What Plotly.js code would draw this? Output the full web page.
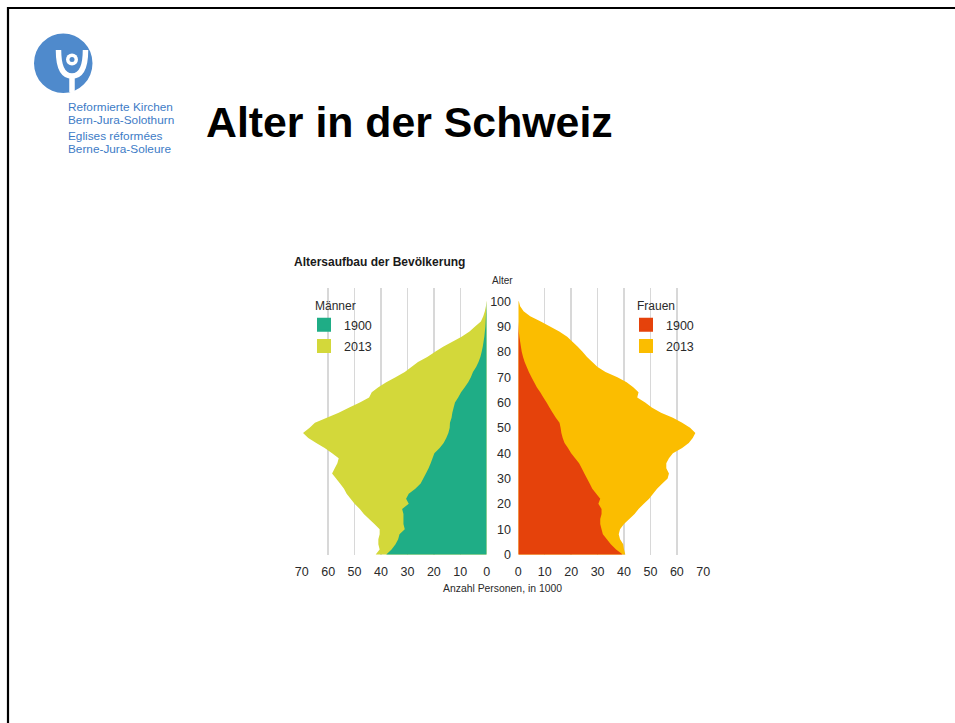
<!DOCTYPE html>
<html><head><meta charset="utf-8">
<script src="https://cdn.plot.ly/plotly-3.0.1.min.js"></script>
<style>html,body{margin:0;padding:0;background:#fff;} #chart{width:955px;height:723px;} .legendfill{display:none;}</style>
</head><body><div id="chart"></div>
<script>
// ---- data (in 1000 persons) ----
const ages = [0,2,4,6,8,10,12,14,16,18,20,22,24,26,28,30,32,34,36,38,40,42,44,46,48,50,52,54,56,58,60,62,64,66,68,70,72,74,76,78,80,82,84,86,88,90,92,94,96,98,100];
const men1900 = [38,36,34.5,33.5,33,31,31.5,31.5,31.5,32,29.5,30.5,29.5,27,25,24,23,22,21.2,20.5,19.8,17.8,16.3,15.3,14.5,14,13.9,13.3,13,12.5,12,10.8,9.7,8.3,7,6,5.2,4,3.1,2.4,1.9,1.5,1.2,0.9,0.7,0.5,0.4,0.3,0.2,0.1,0];
const men2013 = [42,40.5,41,41,40.5,40.5,42.5,44.5,46.5,48,50,51.5,53,54,55.5,57,58.5,57.5,56.5,56,58.5,61.3,64.5,67.5,69.5,67,65,60.5,56,52,48,44.5,43.5,41,38,34.5,31,28.5,26,22.5,19.5,16.5,13,9.5,6.5,4.4,2.2,1.3,0.7,0.3,0.1];
const women1900 = [39.5,37,35,33.5,32,31.5,31,31,31.5,31.5,30.3,31,29.5,28,27,26,25,24,23,21.5,20,18.8,17.5,16.8,16.3,16,15.6,14.2,13,11.8,10.7,9.5,8.3,7,6,5,4,3.2,2.4,1.8,1.3,1,0.7,0.4,0.2,0.1,0,0,0,0,0];
const women2013 = [40.5,40,39.7,38.5,38,38.5,40,42,44,45.5,47.5,49.5,51,52.5,54.5,56.5,57,56,56,57,58.5,62,64.5,66,67,65,62,58.5,54,50.5,48,45,45.5,43.5,41,37.5,33,30,28,26,24.3,22.5,20.5,18.5,15.5,12,8.5,4.5,2,0.7,0.2];
const xTicks = [0,10,20,30,40,50,60,70];
const ageTicks = [0,10,20,30,40,50,60,70,80,90,100];
const years = ['1900','2013'];

// ---- styling ----
const W = 955, H = 723;
const px = x => x / W, py = y => 1 - y / H;
const FONT = 'Liberation Sans, Arial, sans-serif';
const C = {m1900:'#1fad86', m2013:'#d3d83a', w1900:'#e5420b', w2013:'#fbbd00'};
const LOGO = '#3d7bc6';

function area(vals, name, color, xa, leg, rank) {
  return {
    type:'scatter', x: vals, y: ages, xaxis: xa, yaxis:'y',
    mode:'markers', fill:'tozerox', fillcolor: color,
    line:{width:0, color: color},
    marker:{size:0.001, symbol:'square', color: color, line:{width:0.001, color: color}},
    name: name, legend: leg, legendgroup: leg + name, legendrank: rank,
    hoverinfo:'skip'
  };
}

const data = [
  area(men2013, years[1], C.m2013, 'x', 'legend', 2),
  area(men1900, years[0], C.m1900, 'x', 'legend', 1),
  area(women2013, years[1], C.w2013, 'x2', 'legend2', 2),
  area(women1900, years[0], C.w1900, 'x2', 'legend2', 1)
];

const xCommon = {
  tickvals: xTicks, ticks:'', showgrid:true, gridcolor:'#d8d8d8', gridwidth:1.4,
  zeroline:false, showline:false, anchor:'y', fixedrange:true, ticklabelstandoff:7,
  tickfont:{family:FONT, size:12.5, color:'#2a2a2a'}
};
const legCommon = {
  xanchor:'left', yanchor:'top', bgcolor:'rgba(0,0,0,0)', borderwidth:0,
  font:{family:FONT, size:12.5, color:'#2a2a2a'}, tracegroupgap:2, indentation:-9,
  itemsizing:'constant', traceorder:'grouped'
};

const layout = {
  width:W, height:H, margin:{l:0,r:0,t:0,b:0},
  paper_bgcolor:'#fff', plot_bgcolor:'rgba(0,0,0,0)', showlegend:true,
  font:{family:FONT},
  title:{text:'Alter in der Schweiz', x:px(206), xanchor:'left', xref:'paper',
         y:py(122), yanchor:'middle', yref:'paper',
         font:{family:FONT, size:42.8, weight:'bold', color:'#000'}},
  xaxis: Object.assign({}, xCommon, {domain:[px(301.7), px(486.7)], range:[70,0]}),
  xaxis2: Object.assign({}, xCommon, {domain:[px(518.3), px(703.3)], range:[0,70]}),
  yaxis: {domain:[py(555), py(288)], range:[-0.2,105.2], anchor:'free', position:px(511),
          side:'left', tickvals: ageTicks, ticks:'', showgrid:false, zeroline:false,
          showline:false, fixedrange:true, tickfont:{family:FONT, size:12.5, color:'#2a2a2a'}},
  legend: Object.assign({}, legCommon, {x:px(313), y:py(294.5), title:{text:'Männer', font:{family:FONT, size:12, color:'#2a2a2a'}}}),
  legend2: Object.assign({}, legCommon, {x:px(635), y:py(294.5), title:{text:'Frauen', font:{family:FONT, size:12, color:'#2a2a2a'}}}),
  annotations: [
    {text:'<b>Altersaufbau der Bevölkerung</b>', xref:'paper', yref:'paper', x:px(292), y:py(262), xanchor:'left', yanchor:'middle', showarrow:false, font:{family:FONT, size:12, color:'#1a1a1a'}},
    {text:'Alter', xref:'paper', yref:'paper', x:px(502), y:py(280.5), xanchor:'center', yanchor:'middle', showarrow:false, font:{family:FONT, size:10, color:'#2a2a2a'}},
    {text:'Anzahl Personen, in 1000', xref:'paper', yref:'paper', x:px(502), y:py(588), xanchor:'center', yanchor:'middle', showarrow:false, font:{family:FONT, size:10.4, color:'#2a2a2a'}},
    {text:'Reformierte Kirchen', xref:'paper', yref:'paper', x:px(66), y:py(107), xanchor:'left', yanchor:'middle', showarrow:false, font:{family:FONT, size:11.8, color:LOGO}},
    {text:'Bern-Jura-Solothurn', xref:'paper', yref:'paper', x:px(66), y:py(120), xanchor:'left', yanchor:'middle', showarrow:false, font:{family:FONT, size:11.8, color:LOGO}},
    {text:'Eglises réformées', xref:'paper', yref:'paper', x:px(66), y:py(136), xanchor:'left', yanchor:'middle', showarrow:false, font:{family:FONT, size:11.8, color:LOGO}},
    {text:'Berne-Jura-Soleure', xref:'paper', yref:'paper', x:px(66), y:py(149), xanchor:'left', yanchor:'middle', showarrow:false, font:{family:FONT, size:11.8, color:LOGO}}
  ],
  shapes: [
    {type:'rect', xref:'paper', yref:'paper', x0:px(8), y0:py(8), x1:1.05, y1:-0.05, line:{color:'#000', width:2.2}, fillcolor:'rgba(0,0,0,0)'},
    {type:'circle', xref:'paper', yref:'paper', x0:px(34), x1:px(92.5), y0:py(93), y1:py(33.5), fillcolor:'#4f8acc', line:{width:0}},
    {type:'path', xref:'paper', yref:'paper', line:{color:'#fff', width:5.5},
     path:`M ${px(58.5)},${py(50)} Q ${px(58.5)},${py(76)} ${px(72)},${py(76)} Q ${px(85.5)},${py(76)} ${px(85.5)},${py(50)}`},
    {type:'line', xref:'paper', yref:'paper', x0:px(72), x1:px(72), y0:py(75), y1:py(92), line:{color:'#fff', width:5.5}},
    {type:'circle', xref:'paper', yref:'paper', x0:px(66), x1:px(78), y0:py(65.5), y1:py(53.5), fillcolor:'#fff', line:{width:0}},
    {type:'circle', xref:'paper', yref:'paper', x0:px(69.5), x1:px(74.5), y0:py(62), y1:py(57), fillcolor:'#4f8acc', line:{width:0}}
  ]
};

Plotly.newPlot('chart', data, layout, {displayModeBar:false, staticPlot:true});
</script>
</body></html>
